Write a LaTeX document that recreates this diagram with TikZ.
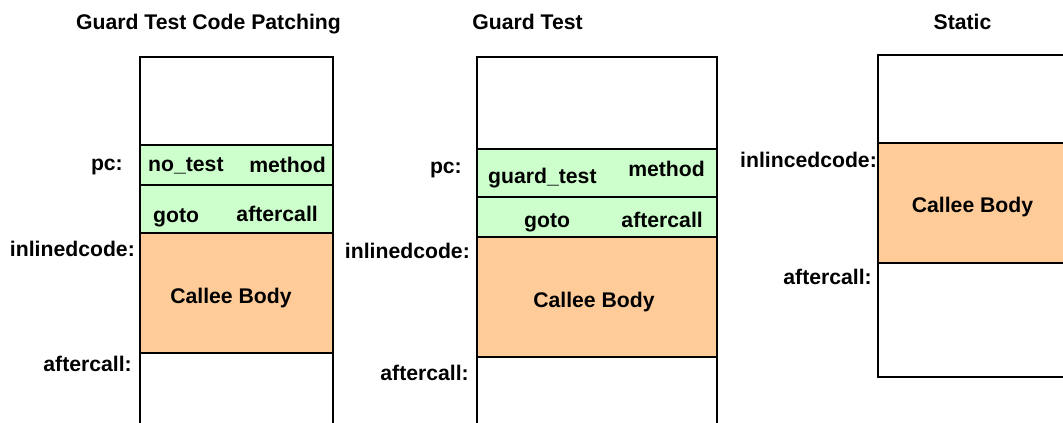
\documentclass[tikz,border=0pt]{standalone}
\usepackage{fontspec}
\setmainfont{Liberation Sans}
\definecolor{guardgreen}{HTML}{CCFFCC}
\definecolor{bodyorange}{HTML}{FFCC99}
\begin{document}
\begin{tikzpicture}[x=1pt,y=-1pt,
  txt/.style={inner sep=0pt,font=\fontsize{21.2}{25}\selectfont\bfseries},
  wall/.style={line width=1.8pt,draw=black},
  greenblk/.style={fill=guardgreen},
  bodyblk/.style={fill=bodyorange}]
\useasboundingbox (0,0) rectangle (1063,423);
\clip (0,0) rectangle (1063,423);

% ---- Guard Test Code Patching ----
\fill[greenblk] (140,145) rectangle (333,233);
\fill[bodyblk] (140,233) rectangle (333,353);
\draw[wall] (140,440) -- (140,57) -- (333,57) -- (333,440);
\draw[wall] (140,145) -- (333,145);
\draw[wall] (140,185) -- (333,185);
\draw[wall] (140,233) -- (333,233);
\draw[wall] (140,353) -- (333,353);
\node[txt,anchor=base] (t1) at (208.5,29) {Guard Test Code Patching};
\node[txt,anchor=base east] (pc1) at (123,170) {pc:};
\node[txt,anchor=base west] (nt1) at (148,171) {no\_test};
\node[txt,anchor=base east] (me1) at (326,172) {method};
\node[txt,anchor=base west] (go1) at (153,222) {goto};
\node[txt,anchor=base east] (ac1) at (318,221) {aftercall};
\node[txt,anchor=base east] (il1) at (135,256) {inlinedcode:};
\node[txt,anchor=base] (cb1) at (231,303) {Callee Body};
\node[txt,anchor=base east] (af1) at (132,371) {aftercall:};

% ---- Guard Test ----
\fill[greenblk] (477,149) rectangle (717,237);
\fill[bodyblk] (477,237) rectangle (717,357);
\draw[wall] (477,440) -- (477,57) -- (717,57) -- (717,440);
\draw[wall] (477,149) -- (717,149);
\draw[wall] (477,197) -- (717,197);
\draw[wall] (477,237) -- (717,237);
\draw[wall] (477,357) -- (717,357);
\node[txt,anchor=base] (t2) at (527.5,29) {Guard Test};
\node[txt,anchor=base east] (pc2) at (462,173) {pc:};
\node[txt,anchor=base west] (gt2) at (488,183) {guard\_test};
\node[txt,anchor=base east] (me2) at (705,176) {method};
\node[txt,anchor=base west] (go2) at (524,227) {goto};
\node[txt,anchor=base east] (ac2) at (703,227) {aftercall};
\node[txt,anchor=base east] (il2) at (470,258) {inlinedcode:};
\node[txt,anchor=base] (cb2) at (594,307) {Callee Body};
\node[txt,anchor=base east] (af2) at (469,380) {aftercall:};

% ---- Static ----
\fill[bodyblk] (878,143) rectangle (1080,263);
\draw[wall] (1080,55) -- (878,55) -- (878,377) -- (1080,377);
\draw[wall] (878,143) -- (1080,143);
\draw[wall] (878,263) -- (1080,263);
\node[txt,anchor=base] (t3) at (962.5,29) {Static};
\node[txt,anchor=base east] (il3) at (877,167) {inlincedcode:};
\node[txt,anchor=base] (cb3) at (972.5,212) {Callee Body};
\node[txt,anchor=base east] (af3) at (872,284) {aftercall:};
\end{tikzpicture}
\end{document}
